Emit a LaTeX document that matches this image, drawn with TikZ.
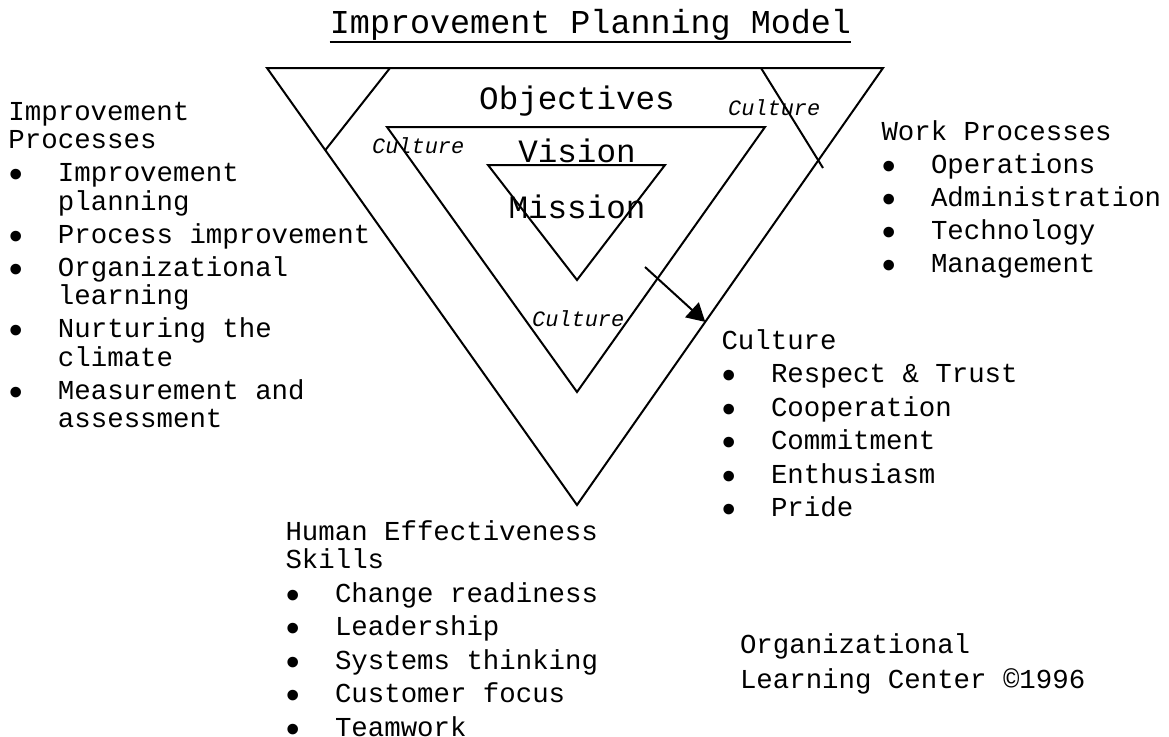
\documentclass[tikz,border=0pt]{standalone}
\usepackage{fontspec}
\usepackage{tikz}
\usetikzlibrary{matrix}
\usetikzlibrary{calc}
\usetikzlibrary{arrows.meta}

\newfontfamily\courfont{Liberation Mono}
\newcommand{\listfont}{\courfont\fontsize{27.4pt}{28.5pt}\selectfont}
\newcommand{\layerfont}{\courfont\fontsize{32.6pt}{34pt}\selectfont}
\newcommand{\headfont}{\courfont\fontsize{33.4pt}{35pt}\selectfont}
\newcommand{\cultfont}{\courfont\itshape\fontsize{21.9pt}{23pt}\selectfont}
\newcommand{\bul}{\makebox[16.44pt]{\raisebox{-6pt}{\fontsize{39pt}{39pt}\selectfont\textbullet}}}

\tikzset{
  tri/.style={line width=2pt},
  layer/.style={anchor=base, inner sep=0pt, font=\layerfont},
  culture/.style={anchor=base west, inner sep=0pt, font=\cultfont},
  bullets/.style={matrix of nodes, anchor=north west, inner sep=0pt, outer sep=0pt,
    column sep=33.56pt, row sep={28.5pt,between origins},
    nodes={anchor=base west, inner sep=0pt, outer sep=0pt,
      text height=21pt, text depth=7pt, font=\listfont}},
}

\begin{document}
\begin{tikzpicture}[x=1pt,y=-1pt]
\useasboundingbox (0,0) rectangle (1169,736);

\node (title) [anchor=base, inner sep=0pt, text depth=9pt, font=\headfont] at (590.5,33)
  {Improvement Planning Model};
\draw[line width=1.5pt] (title.south west) -- (title.south east);

% three nested triangles
\coordinate (o1) at (267,68);
\coordinate (o2) at (883,68);
\coordinate (o3) at (577,505);
\coordinate (m1) at (387,127);
\coordinate (m2) at (765,127);
\coordinate (m3) at (577,392);
\coordinate (i1) at (488,165);
\coordinate (i2) at (665,165);
\coordinate (i3) at (577,280);
\draw[tri] (o1) -- (o2) -- (o3) -- cycle;
\draw[tri] (m1) -- (m2) -- (m3) -- cycle;
\draw[tri] (i1) -- (i2) -- (i3) -- cycle;

\coordinate (nl) at (390,68);
\coordinate (nr1) at (761,68);
\coordinate (nr2) at (823,168);
\draw[tri] (nl) -- ($(o1)!0.188!(o3)$);
\draw[tri] (nr1) -- (nr2);

\coordinate (a0) at (645,267);
\draw[tri,-{Triangle[length=18pt,width=20pt]}] (a0) -- ($(o2)!0.581!(o3)$);

\node (obj) [layer] at (577,109) {Objectives};
\node (vis) [layer] at (577,162) {Vision};
\node (mis) [layer] at (577,218) {Mission};

\node (cult1) [culture] at (728,115) {Culture};
\node (cult2) [culture] at (372,153) {Culture};
\node (cult3) [culture] at (532,326) {Culture};

\matrix (imp) [bullets] at (8,99)
{
\rlap{Improvement} \\
\rlap{Processes} \\[4.5pt]
\bul & Improvement \\
 & planning \\[4.5pt]
\bul & Process improvement \\[4.5pt]
\bul & Organizational \\
 & learning \\[4.5pt]
\bul & Nurturing the \\
 & climate \\[4.5pt]
\bul & Measurement and \\
 & assessment \\
};

\matrix (work) [bullets] at (881,119)
{
\rlap{Work Processes} \\[4.5pt]
\bul & Operations \\[4.5pt]
\bul & Administration \\[4.5pt]
\bul & Technology \\[4.5pt]
\bul & Management \\
};

\matrix (cult) [bullets] at (721,328)
{
\rlap{Culture} \\[5pt]
\bul & Respect \& Trust \\[5pt]
\bul & Cooperation \\[5pt]
\bul & Commitment \\[5pt]
\bul & Enthusiasm \\[5pt]
\bul & Pride \\
};

\matrix (hum) [bullets] at (285,519)
{
\rlap{Human Effectiveness} \\
\rlap{Skills} \\[5pt]
\bul & Change readiness \\[5pt]
\bul & Leadership \\[5pt]
\bul & Systems thinking \\[5pt]
\bul & Customer focus \\[5pt]
\bul & Teamwork \\
};

\matrix (olc) [bullets] at (740,632)
{
Organizational \\[6.5pt]
Learning Center ©1996 \\
};
\end{tikzpicture}
\end{document}
